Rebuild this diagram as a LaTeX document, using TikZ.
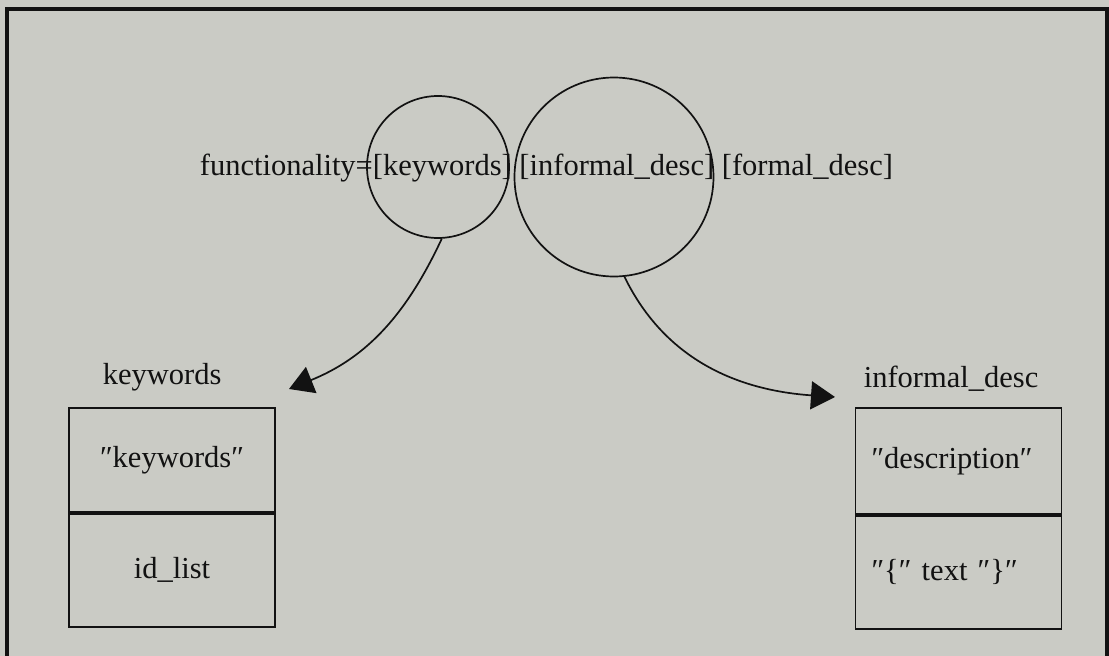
\documentclass[tikz,border=0pt]{standalone}
\usepackage{fontspec}
\setmainfont{Liberation Serif}
\usetikzlibrary{positioning,arrows.meta}
\definecolor{paper}{RGB}{202,203,197}
\definecolor{ink}{RGB}{18,18,18}
\tikzset{>={Triangle[length=24pt,width=28pt]}}
\newcommand\dq{″}

\begin{document}
\begin{tikzpicture}[x=1pt,y=-1pt,line width=1.7pt,color=ink,
  font=\fontsize{30.5pt}{36pt}\selectfont,
  ring/.style={draw,circle,inner sep=0pt},
  cell/.style={draw,rectangle,minimum width=206pt,inner sep=0pt}]
\fill[paper] (0,0) rectangle (1109,656);
\useasboundingbox (0,0) rectangle (1109,656);
\draw[line width=3.5pt] (7,656) |- (1107,9) -- (1107,656);
% the production, with two of its parts ringed
\node[anchor=base west,inner sep=0pt] (prod) at (199,175) {functionality=[keywords] [informal\_desc] [formal\_desc]};
\node[ring,minimum size=142pt] (kwring) at (438,167) {};
\node[ring,minimum size=199pt] (idring) at (614,177) {};
% keywords
\node[anchor=base west,inner sep=0pt] (kwtitle) at (102,384) {keywords};
\node[cell,minimum height=104pt] (kwtop) at (172,460) {\dq keywords\dq};
\node[cell,minimum height=113pt,below=0pt of kwtop] (kwbot) {id\_list};
% informal_desc
\node[anchor=base west,inner sep=0pt] (idtitle) at (863,387) {informal\_desc};
\node[cell,minimum height=106pt,text width=174pt,align=left,inner xsep=16pt] (idtop) at (958.5,461) {\dq description\dq};
\node[cell,minimum height=113pt,text width=174pt,align=left,inner xsep=16pt,below=0pt of idtop] (idbot) {\dq\{\dq{} text \dq\}\dq};
% arrows down to the two expansions
\coordinate (kwtip) at (289,389);
\coordinate (idtip) at (835,397);
\draw[->] (kwring.-87) to[out=-115,in=22] (kwtip);
\draw[->] (idring.-84) to[out=-64,in=176] (idtip);
\end{tikzpicture}
\end{document}
